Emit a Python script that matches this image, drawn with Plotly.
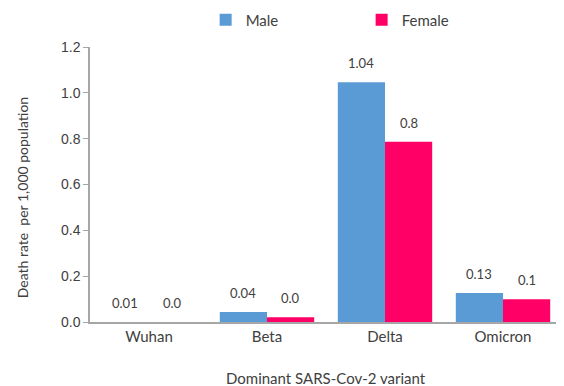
import plotly.graph_objects as go

categories = ["Wuhan", "Beta", "Delta", "Omicron"]
male = [0.0, 0.044, 1.046, 0.127]
female = [0.0, 0.021, 0.786, 0.099]
male_labels = ["0.01", "0.04", "1.04", "0.13"]
female_labels = ["0.0", "0.0", "0.8", "0.1"]
y_ticks = [0.0, 0.2, 0.4, 0.6, 0.8, 1.0, 1.2]

BLUE = "#5B9BD5"
PINK = "#FF0066"
TXT = "#404040"
FONT = "Lato"

fig = go.Figure()
fig.add_trace(go.Bar(name="Male", x=categories, y=male, marker_color=BLUE, marker_line_width=0))
fig.add_trace(go.Bar(name="Female", x=categories, y=female, marker_color=PINK, marker_line_width=0))

annotations = []
for i in range(len(categories)):
    for off, vals, labs in ((-0.2, male, male_labels), (0.2, female, female_labels)):
        annotations.append(dict(
            x=i + off, y=vals[i], xref="x", yref="y", text=labs[i],
            showarrow=False, yanchor="bottom", yshift=9,
            font=dict(family=FONT, size=13, color=TXT)))

annotations.append(dict(
    text="Death rate  per 1,000 population", xref="paper", yref="paper",
    x=-0.144, y=0.45, textangle=-90, showarrow=False,
    xanchor="center", yanchor="middle",
    font=dict(family=FONT, size=14, color=TXT)))
annotations.append(dict(
    text="Dominant SARS-Cov-2 variant", xref="paper", yref="paper",
    x=0.5, y=-0.204, showarrow=False, xanchor="center", yanchor="middle",
    font=dict(family=FONT, size=15, color=TXT)))

fig.update_layout(
    width=564, height=386,
    margin=dict(l=82, r=10, t=39, b=72, autoexpand=False),
    paper_bgcolor="white", plot_bgcolor="white",
    barmode="group", bargap=0.2, bargroupgap=0,
    showlegend=True,
    legend=dict(orientation="h", x=0.245, y=1.098, xanchor="left", yanchor="middle",
                entrywidth=111, font=dict(family=FONT, size=15, color=TXT),
                bgcolor="rgba(0,0,0,0)"),
    annotations=annotations,
    font=dict(family=FONT, color=TXT),
)
fig.update_xaxes(
    showline=True, linecolor="#A6A6A6", linewidth=1.5, ticks="",
    showgrid=False, tickfont=dict(family=FONT, size=15, color=TXT),
)
fig.update_yaxes(
    range=[0, 1.2], tickvals=y_ticks, tickformat=".1f",
    showline=True, linecolor="#A6A6A6", linewidth=1.5,
    ticks="outside", ticklen=5, tickcolor="#A6A6A6",
    showgrid=False, zeroline=False,
    tickfont=dict(family="Liberation Sans", size=14, color=TXT),
)

fig.write_html("out.html")
